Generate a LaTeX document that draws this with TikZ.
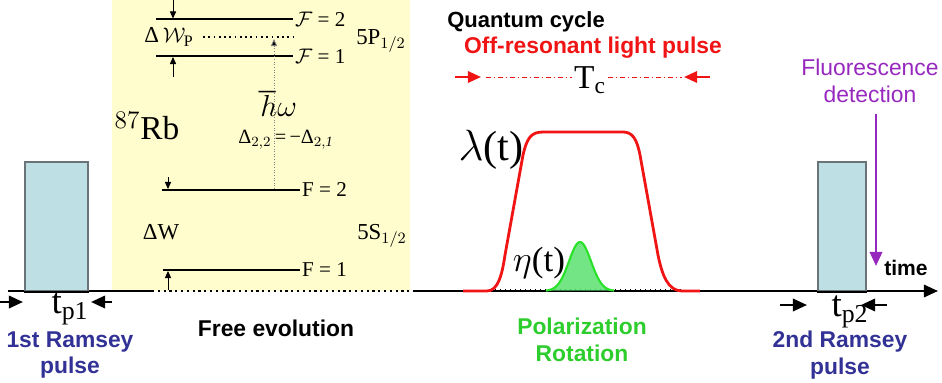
\documentclass[tikz,border=0pt]{standalone}
\usepackage{fontspec}
\setmainfont{Liberation Serif}
\setsansfont{Liberation Sans}
\usepackage{amsmath}
\usetikzlibrary{arrows.meta, positioning, calc}
\definecolor{levelbg}{RGB}{255,252,205}
\definecolor{pulsefill}{RGB}{190,224,228}
\definecolor{pulsedraw}{RGB}{105,115,120}
\definecolor{ramseyblue}{RGB}{50,50,150}
\definecolor{lightred}{RGB}{240,20,20}
\definecolor{polgreen}{RGB}{45,205,45}
\definecolor{gaussline}{RGB}{40,225,40}
\definecolor{gaussfill}{RGB}{90,225,110}
\definecolor{fluorpurple}{RGB}{150,40,190}
\newcommand{\fsz}[1]{\fontsize{#1}{#1}\selectfont}
\tikzset{
  level/.style={line width=1.4pt, black},
  virt/.style={dotted, line width=1pt, black},
  gaparrow/.style={-{Triangle[length=4pt,width=3.5pt]}, line width=0.5pt},
  excite/.style={densely dotted, gray, line width=0.5pt, -{Triangle[length=4pt,width=3.5pt,fill=black]}},
  lvllabel/.style={font=\fsz{12}, inner sep=1pt, anchor=west},
  axis/.style={line width=1.3pt, black},
  pulsebox/.style={draw=pulsedraw, fill=pulsefill, line width=0.8pt},
  tparrow/.style={-{Triangle[length=8pt,width=7pt]}, line width=1.4pt},
  redarrow/.style={-{Triangle[length=7.5pt,width=6.5pt]}, line width=1.3pt, lightred},
  tcline/.style={lightred, line width=0.5pt, dash pattern=on 3pt off 1.5pt on 0.8pt off 1.5pt},
  boldlbl/.style={font=\sffamily\bfseries\fsz{13}, align=center, inner sep=0pt},
  ramsey/.style={boldlbl, text=ramseyblue, font=\sffamily\bfseries\fontsize{13}{15}\selectfont}
}

\begin{document}
\begin{tikzpicture}[x=0.02cm, y=-0.02cm]
  \useasboundingbox (0,0) rectangle (942,382);
  % free evolution background
  \fill[levelbg] (112,0) rectangle (410,291);

  % time axis
  \coordinate (ax0) at (8,291);
  \coordinate (ax1) at (152,291);
  \coordinate (ax2) at (413,291);
  \coordinate (ax3) at (938,291);
  \draw[axis] (ax0) -- (ax1);
  \draw[virt, line width=1.3pt] (ax1) -- (ax2);
  \draw[axis, -{Triangle[length=8pt,width=7pt]}] (ax2) -- (ax3);
  \foreach \x in {490,495,...,680}
    \draw[line width=0.4pt] (\x,291) -- (\x,288.5);
  \node[font=\sffamily\bfseries\fsz{12}] (time) at (906,268) {time};

  % Ramsey pulses
  \node[pulsebox, minimum width=1.26cm, minimum height=2.58cm, inner sep=0pt] (pulse1) at (56.5,226.5) {};
  \node[pulsebox, minimum width=0.96cm, minimum height=2.58cm, inner sep=0pt] (pulse2) at (842,226.5) {};
  \draw[axis] (pulse1.south west) -- (pulse1.south east);
  \draw[axis] (pulse2.south west) -- (pulse2.south east);

  \node[font=\fsz{21}, inner sep=0pt] (tp1) at (70,309) {t$_{\mathrm{p1}}$};
  \coordinate (tp1a) at (0,302);
  \coordinate (tp1b) at (112,302);
  \draw[tparrow] (tp1a) -- (23,302);
  \draw[tparrow] (tp1b) -- (91,302);
  \node[ramsey] (ram1) at (70,355) {1st Ramsey\\pulse};

  \node[font=\fsz{21}, inner sep=0pt] (tp2) at (850,312) {t$_{\mathrm{p2}}$};
  \coordinate (tp2a) at (780,305);
  \coordinate (tp2b) at (887,305);
  \draw[tparrow] (tp2a) -- (807,305);
  \draw[tparrow] (tp2b) -- (861,305);
  \node[ramsey] (ram2) at (840,355) {2nd Ramsey\\pulse};

  % level scheme of the atom
  \coordinate (p2L) at (156,19);  \coordinate (p2R) at (293,19);
  \coordinate (p1L) at (156,56);  \coordinate (p1R) at (293,56);
  \coordinate (vL) at (203,37);   \coordinate (vR) at (293,37);
  \coordinate (s2L) at (162,190); \coordinate (s2R) at (300,190);
  \coordinate (s1L) at (163,270); \coordinate (s1R) at (300,270);
  \draw[level] (p2L) -- (p2R);
  \draw[level] (p1L) -- (p1R);
  \draw[virt] (vL) -- (vR);
  \draw[level] (s2L) -- (s2R);
  \draw[level] (s1L) -- (s1R);
  \node[lvllabel] (F2P) at (p2R) {$\mathcal{F}$ = 2};
  \node[lvllabel] (F1P) at (p1R) {$\mathcal{F}$ = 1};
  \node[lvllabel] (F2S) at (s2R) {F = 2};
  \node[lvllabel] (F1S) at (s1R) {F = 1};
  \draw[gaparrow] (173,0) -- (173,18.5);
  \draw[gaparrow] (173,77) -- (173,57);
  \draw[gaparrow] (168,177) -- (168,189);
  \draw[gaparrow] (168,290) -- (168,271);
  \draw[excite] (274,189) -- (274,39);
  \node[font=\fsz{13}] (dWP) at (169,37) {Δ\,$\mathcal{W}_{\mathrm{P}}$};
  \node[font=\fsz{13}] (dW) at (161,232) {ΔW};
  \node[font=\fsz{13}] (P12) at (381,41) {5P$_{1/2}$};
  \node[font=\fsz{13}] (S12) at (382,236) {5S$_{1/2}$};
  \node[font=\fsz{19}] (rb) at (147,126) {$^{87}$Rb};
  \node[font=\fsz{19}, inner sep=0pt] (hw) at (278,104) {$\hbar\omega$};
  \node[font=\fsz{11.5}, inner sep=0pt] (det) at (286,140) {Δ$_{2,2}$\,=\,−Δ$_{2,\mathit{1}}$};
  \node[boldlbl] (free) at (276,328) {Free evolution};

  % quantum cycle
  \node[boldlbl, font=\sffamily\bfseries\fsz{12.5}] (qc) at (526,22) {Quantum cycle};
  \node[boldlbl, text=lightred] (offres) at (593,48) {Off-resonant light pulse};
  \node[font=\fsz{19}, inner sep=1pt] (tc) at (590,80) {T$_{\mathrm{c}}$};
  \coordinate (tcL) at (455,77);
  \coordinate (tcR) at (710,77);
  \draw[redarrow] (tcL) -- (481,77);
  \draw[redarrow] (tcR) -- (684,77);
  \draw[tcline] (486,77) -- (tc.west |- tcL);
  \draw[tcline] (tc.east |- tcR) -- (682,77);
  \draw[lightred, line width=1.6pt, line join=round]
    (463,291) -- (487,291) .. controls (498,291) and (502,275) .. (505,255)
    -- (523,155) .. controls (527,138) and (531,132) .. (543,132)
    -- (623,132) .. controls (633,132) and (637,140) .. (640,155)
    -- (658,255) .. controls (662,275) and (668,291) .. (682,291) -- (700,291);
  \node[font=\fsz{24}, inner sep=0pt] (lam) at (491,150) {$\lambda$(t)};

  % polarization rotation
  \fill[gaussfill, opacity=0.85] plot[domain=546:614, samples=50]
    (\x, {291-49*exp(-((\x-580)*(\x-580))/242)}) -- cycle;
  \draw[gaussline, line width=1.2pt] plot[domain=546:614, samples=50]
    (\x, {291-49*exp(-((\x-580)*(\x-580))/242)});
  \node[font=\fsz{20}, inner sep=0pt] (eta) at (539,263) {$\eta$(t)};
  \node[boldlbl, text=polgreen, font=\sffamily\bfseries\fontsize{13}{15.5}\selectfont] (polrot) at (582,340) {Polarization\\Rotation};

  % detection
  \node[font=\sffamily\fontsize{13}{15}\selectfont, text=fluorpurple, align=center, inner sep=0pt] (fluor) at (870,81) {Fluorescence\\detection};
  \coordinate (fluorend) at (876,266);
  \draw[fluorpurple, line width=1.5pt, -{Triangle[length=8pt,width=7pt]}] (876,114) -- (fluorend);
\end{tikzpicture}
\end{document}
